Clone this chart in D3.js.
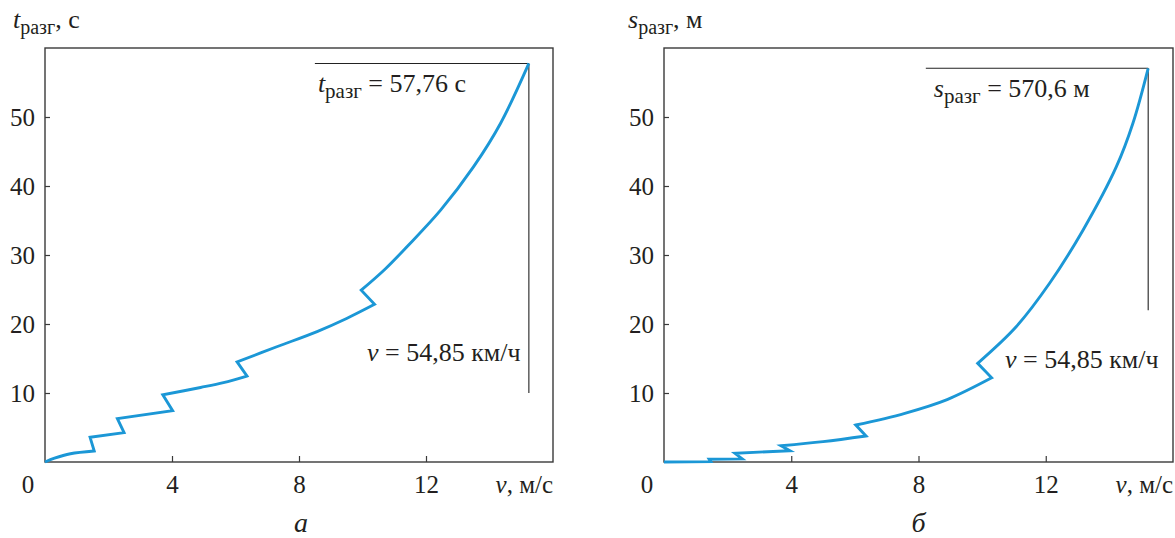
<!DOCTYPE html>
<html>
<head>
<meta charset="utf-8">
<script src="https://cdn.jsdelivr.net/npm/d3@7"></script>
<style>
  html, body { margin: 0; padding: 0; background: #fff; }
  svg { display: block; }
  text { font-family: "Liberation Serif", "Times New Roman", "DejaVu Serif", serif; fill: #231f20; }
</style>
</head>
<body>
<svg id="chart" width="1175" height="538"></svg>
<script>
// ---------- data ----------
// Panel a: acceleration time vs speed (gear segments)
const tSpeed = [0, 0.3, 0.8, 1.55, 1.42, 2.49, 2.28, 4.02, 3.71, 4.9, 5.62, 6.36, 6.05, 7.3, 8.57, 9.5, 10.38, 9.96, 10.7, 11.4, 12.46, 13.5, 14.35, 15.24];
const tTime  = [0, 0.55, 1.2, 1.6, 3.58, 4.25, 6.28, 7.43, 9.75, 10.8, 11.5, 12.46, 14.5, 16.7, 18.9, 20.8, 22.85, 24.9, 27.9, 31.2, 36.5, 42.8, 49.1, 57.76];
const tGear  = [1, 1, 1, 1, 2, 2, 3, 3, 4, 4, 4, 4, 5, 5, 5, 5, 5, 6, 6, 6, 6, 6, 6, 6];

// Panel б: acceleration distance (×10 m) vs speed
const sSpeed = [0, 1.47, 1.42, 2.46, 2.23, 3.96, 3.68, 5.0, 6.35, 6.03, 7.57, 8.9, 10.3, 9.86, 11.07, 12.12, 13.17, 14.22, 14.74, 15.22];
const sDist  = [0, 0.05, 0.4, 0.45, 1.26, 1.64, 2.36, 2.95, 3.77, 5.36, 7.06, 9.05, 12.2, 14.3, 19.6, 25.9, 33.6, 42.8, 49.1, 57.06];
const sGear  = [1, 1, 2, 2, 3, 3, 4, 4, 4, 5, 5, 5, 5, 6, 6, 6, 6, 6, 6, 6];

const xTicks = [4, 8, 12];
const yTicks = [10, 20, 30, 40, 50];
const xDomain = [0, 16];
const yDomain = [0, 60];

// annotation guide lines: horizontal [v start, v end, value], vertical [v, from, to]
const tGuideH = [8.5, 15.24, 57.76];
const tGuideV = [15.24, 57.76, 10];
const sGuideH = [8.23, 15.22, 57.06];
const sGuideV = [15.22, 57.06, 22];

const tLabel = "57,76 с";
const sLabel = "570,6 м";
const speedLabel = "54,85 км/ч";

// ---------- drawing ----------
const svg = d3.select("#chart");
const BLUE = "#1b97d6";
const INK = "#231f20";
const FONT = "Liberation Serif, Times New Roman, serif";

function panel(cfg) {
  const x = d3.scaleLinear().domain(xDomain).range([cfg.x0, cfg.x1]);
  const y = d3.scaleLinear().domain(yDomain).range([462, 48]);
  const g = svg.append("g");

  // frame
  g.append("rect")
    .attr("x", x(xDomain[0])).attr("y", y(yDomain[1]))
    .attr("width", x(xDomain[1]) - x(xDomain[0]))
    .attr("height", y(yDomain[0]) - y(yDomain[1]))
    .attr("fill", "none").attr("stroke", "#3a3a3a").attr("stroke-width", 1.4);

  // axes
  const ya = g.append("g").attr("transform", `translate(${x(0)},0)`)
    .call(d3.axisLeft(y).tickValues(yTicks).tickSizeInner(-5).tickSizeOuter(0).tickPadding(10));
  const xa = g.append("g").attr("transform", `translate(0,${y(0)})`)
    .call(d3.axisBottom(x).tickValues(xTicks).tickSizeInner(-6).tickSizeOuter(0).tickPadding(13));
  [ya, xa].forEach(a => {
    a.attr("font-family", FONT);
    a.select(".domain").remove();
    a.selectAll(".tick line").attr("stroke", "#3a3a3a").attr("stroke-width", 1.2);
    a.selectAll(".tick text").attr("font-size", 25).attr("fill", INK);
  });

  // origin "0"
  g.append("text").attr("x", x(0) - 17).attr("y", y(0) + 31)
    .attr("text-anchor", "middle").attr("font-size", 25).text("0");

  // x axis title
  const xt = g.append("text").attr("x", x(xDomain[1])).attr("y", y(0) + 31)
    .attr("text-anchor", "end").attr("font-size", 25);
  xt.append("tspan").attr("font-style", "italic").text("v");
  xt.append("tspan").text(", м/с");

  // y axis title
  const yt = g.append("text").attr("x", cfg.titleX).attr("y", 28).attr("font-size", 26);
  yt.append("tspan").attr("font-style", "italic").text(cfg.sym);
  yt.append("tspan").attr("font-size", 20).attr("dy", 6).text("разг");
  yt.append("tspan").attr("dy", -6).text(", " + cfg.unit);

  // guide lines
  g.append("line")
    .attr("x1", x(cfg.gh[0])).attr("x2", x(cfg.gh[1]))
    .attr("y1", y(cfg.gh[2])).attr("y2", y(cfg.gh[2]))
    .attr("stroke", "#222").attr("stroke-width", 1.1);
  g.append("line")
    .attr("x1", x(cfg.gv[0])).attr("x2", x(cfg.gv[0]))
    .attr("y1", y(cfg.gv[1])).attr("y2", y(cfg.gv[2]))
    .attr("stroke", "#222").attr("stroke-width", 1.1);

  // curve: smooth within a gear, straight jump between gears
  const pts = cfg.v.map((v, i) => ({ v, val: cfg.val[i], gear: cfg.gear[i] }));
  const groups = d3.groups(pts, d => d.gear);
  const line = d3.line().x(d => x(d.v)).y(d => y(d.val)).curve(d3.curveCatmullRom.alpha(0.5));
  let dStr = "";
  groups.forEach(([k, arr], i) => {
    let s = line(arr);
    if (i > 0) s = "L" + s.slice(1);
    dStr += s;
  });
  g.append("path").attr("d", dStr)
    .attr("fill", "none").attr("stroke", BLUE).attr("stroke-width", 2.9)
    .attr("stroke-linejoin", "miter").attr("stroke-linecap", "butt");

  // annotations
  const a1 = g.append("text").attr("x", x(cfg.gh[0]) + cfg.a1dx).attr("y", y(cfg.gh[2]) + 29).attr("font-size", 26);
  a1.append("tspan").attr("font-style", "italic").text(cfg.sym);
  a1.append("tspan").attr("font-size", 21).attr("dy", 6).text("разг");
  a1.append("tspan").attr("dy", -6).text(" = " + cfg.label);

  const a2 = g.append("text").attr("x", cfg.a2x).attr("y", cfg.a2y).attr("font-size", 26);
  a2.append("tspan").attr("font-style", "italic").text("v");
  a2.append("tspan").text(" = " + speedLabel);

  // caption
  g.append("text").attr("x", (x(0) + x(xDomain[1])) / 2 + cfg.capDx).attr("y", 532)
    .attr("text-anchor", "middle").attr("font-size", 28).attr("font-style", "italic").text(cfg.cap);
}

panel({ x0: 45, x1: 553, v: tSpeed, val: tTime, gear: tGear, gh: tGuideH, gv: tGuideV,
        sym: "t", unit: "с", label: tLabel, titleX: 13, a1dx: 3, a2x: 367, a2y: 361,
        cap: "а", capDx: 2 });
panel({ x0: 664, x1: 1173, v: sSpeed, val: sDist, gear: sGear, gh: sGuideH, gv: sGuideV,
        sym: "s", unit: "м", label: sLabel, titleX: 628, a1dx: 8, a2x: 1005, a2y: 368,
        cap: "б", capDx: 0 });
</script>
</body>
</html>
